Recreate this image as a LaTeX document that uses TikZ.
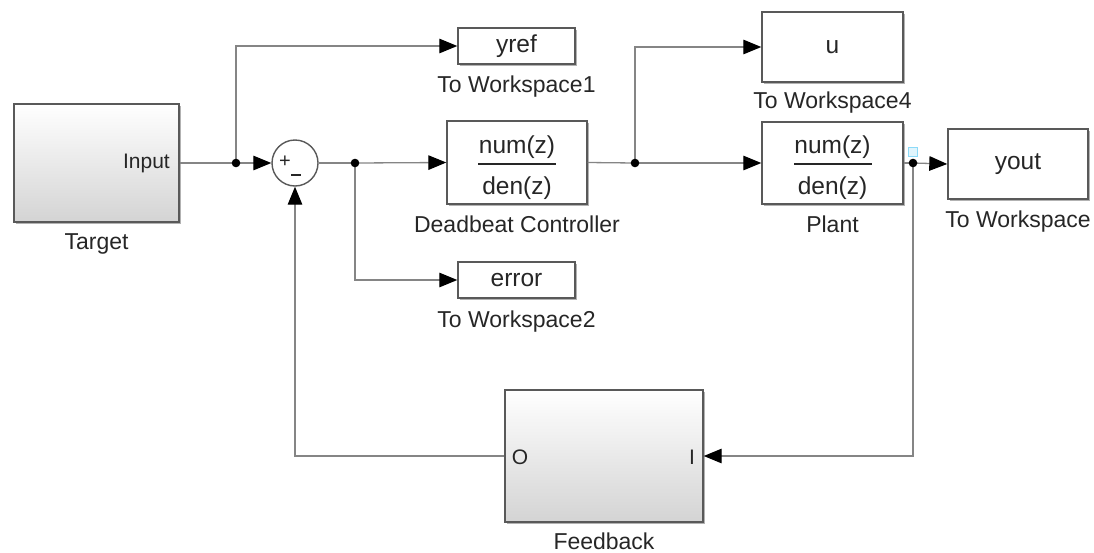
\documentclass[tikz,border=0pt]{standalone}
\usepackage{fontspec}
\setmainfont{Liberation Sans}
\usetikzlibrary{arrows.meta,shadows}

\begin{document}
\begin{tikzpicture}[x=1pt,y=-1pt,
  blk/.style={draw=black!65, line width=1.4pt, fill=white, inner sep=0pt,
    drop shadow={shadow xshift=1.8pt, shadow yshift=-1.8pt, opacity=0.5, fill=black!60}},
  subsys/.style={blk, top color=white, bottom color=black!17},
  sumblk/.style={draw=black!65, line width=1.4pt, fill=white, circle, inner sep=0pt, minimum size=46pt},
  intext/.style={font=\fontsize{24.5}{28}\selectfont, text=black!85, inner sep=0pt},
  porttext/.style={font=\fontsize{21}{24}\selectfont, text=black!85, inner sep=0pt},
  lbl/.style={font=\fontsize{23}{27}\selectfont, text=black!85, anchor=base, inner sep=0pt},
  sig/.style={draw=black!48, line width=1.3pt},
  arr/.style={sig, -{Triangle[length=18pt,width=14.5pt,color=black,fill=black]}},
  dot/.style={fill=black}
]
\useasboundingbox (0,0) rectangle (1094,552);

% blocks
\node[subsys, minimum width=165pt, minimum height=118pt] (target) at (96.5,163) {};
\node[sumblk] (sum) at (295,163) {};
\node[blk, minimum width=117pt, minimum height=36pt] (yref) at (516.5,46) {};
\node[blk, minimum width=140pt, minimum height=83pt] (dbc) at (517,162.5) {};
\node[blk, minimum width=117pt, minimum height=36pt] (err) at (516.5,280) {};
\node[blk, minimum width=141pt, minimum height=70pt] (u) at (832.5,47) {};
\node[blk, minimum width=141pt, minimum height=82pt] (plant) at (832.5,163) {};
\node[blk, minimum width=140pt, minimum height=70pt] (yout) at (1018,164) {};
\node[subsys, minimum width=198pt, minimum height=132pt] (fb) at (604,456) {};

% block contents
\node[porttext, anchor=east] (inport) at (170,163) {Input};
\node[font=\fontsize{20}{22}\selectfont, text=black!85, inner sep=0pt] (plus) at (285,162) {+};
\coordinate (m1) at (291,175);
\coordinate (m2) at (301,175);
\draw[line width=2pt, black!85] (m1) -- (m2);
\node[intext] (yreftxt) at (yref.center) {yref};
\node[intext] (errtxt) at (err.center) {error};
\node[intext] (utxt) at (u.center) {u};
\node[intext] (youttxt) at (yout.center) {yout};
\node[intext] (dnum) at (517,147) {num(z)};
\node[intext] (dden) at (517,188) {den(z)};
\coordinate (dl1) at (478,164);
\coordinate (dl2) at (556,164);
\draw[line width=1.3pt, black!85] (dl1) -- (dl2);
\node[intext] (pnum) at (832.5,147) {num(z)};
\node[intext] (pden) at (832.5,188) {den(z)};
\coordinate (pl1) at (794,164);
\coordinate (pl2) at (872,164);
\draw[line width=1.3pt, black!85] (pl1) -- (pl2);
\node[porttext] (oport) at (520,457) {O};
\node[porttext] (iport) at (692,457) {I};

% block names
\node[lbl] (targetlbl) at (96.5,249) {Target};
\node[lbl] (yreflbl) at (516.5,92) {To Workspace1};
\node[lbl] (dbclbl) at (517,232) {Deadbeat Controller};
\node[lbl] (errlbl) at (516.5,327) {To Workspace2};
\node[lbl] (ulbl) at (832.5,108) {To Workspace4};
\node[lbl] (plantlbl) at (832.5,232) {Plant};
\node[lbl] (youtlbl) at (1018,227) {To Workspace};
\node[lbl] (fblbl) at (604,549) {Feedback};

% branch points
\coordinate (j1) at (236,163);
\coordinate (j2) at (355,163);
\coordinate (j3) at (635,163);
\coordinate (j4) at (913,163);

% signal lines
\draw[sig] (target.east) -- (j1);
\draw[arr] (j1) -- (sum.west);
\draw[arr] (j1) |- (yref.west);
\draw[sig] (sum.east) -- (j2);
\draw[arr] (j2) -- (dbc.west);
\draw[arr] (j2) |- (err.west);
\draw[sig] (dbc.east) -- (j3);
\draw[arr] (j3) -- (plant.west);
\draw[arr] (j3) |- (u.west);
\draw[sig] (plant.east) -- (j4);
\node[draw=cyan!45, fill=cyan!12, line width=0.8pt, minimum width=9pt, minimum height=9pt, inner sep=0pt] (portmark) at (913,152) {};
\draw[arr] (j4) -- (yout.west);
\draw[arr] (j4) |- (fb.east);
\draw[arr] (fb.west) -| (sum.south);

\fill[dot] (j1) circle (4.3pt);
\fill[dot] (j2) circle (4.3pt);
\fill[dot] (j3) circle (4.3pt);
\fill[dot] (j4) circle (4.3pt);
\end{tikzpicture}
\end{document}
